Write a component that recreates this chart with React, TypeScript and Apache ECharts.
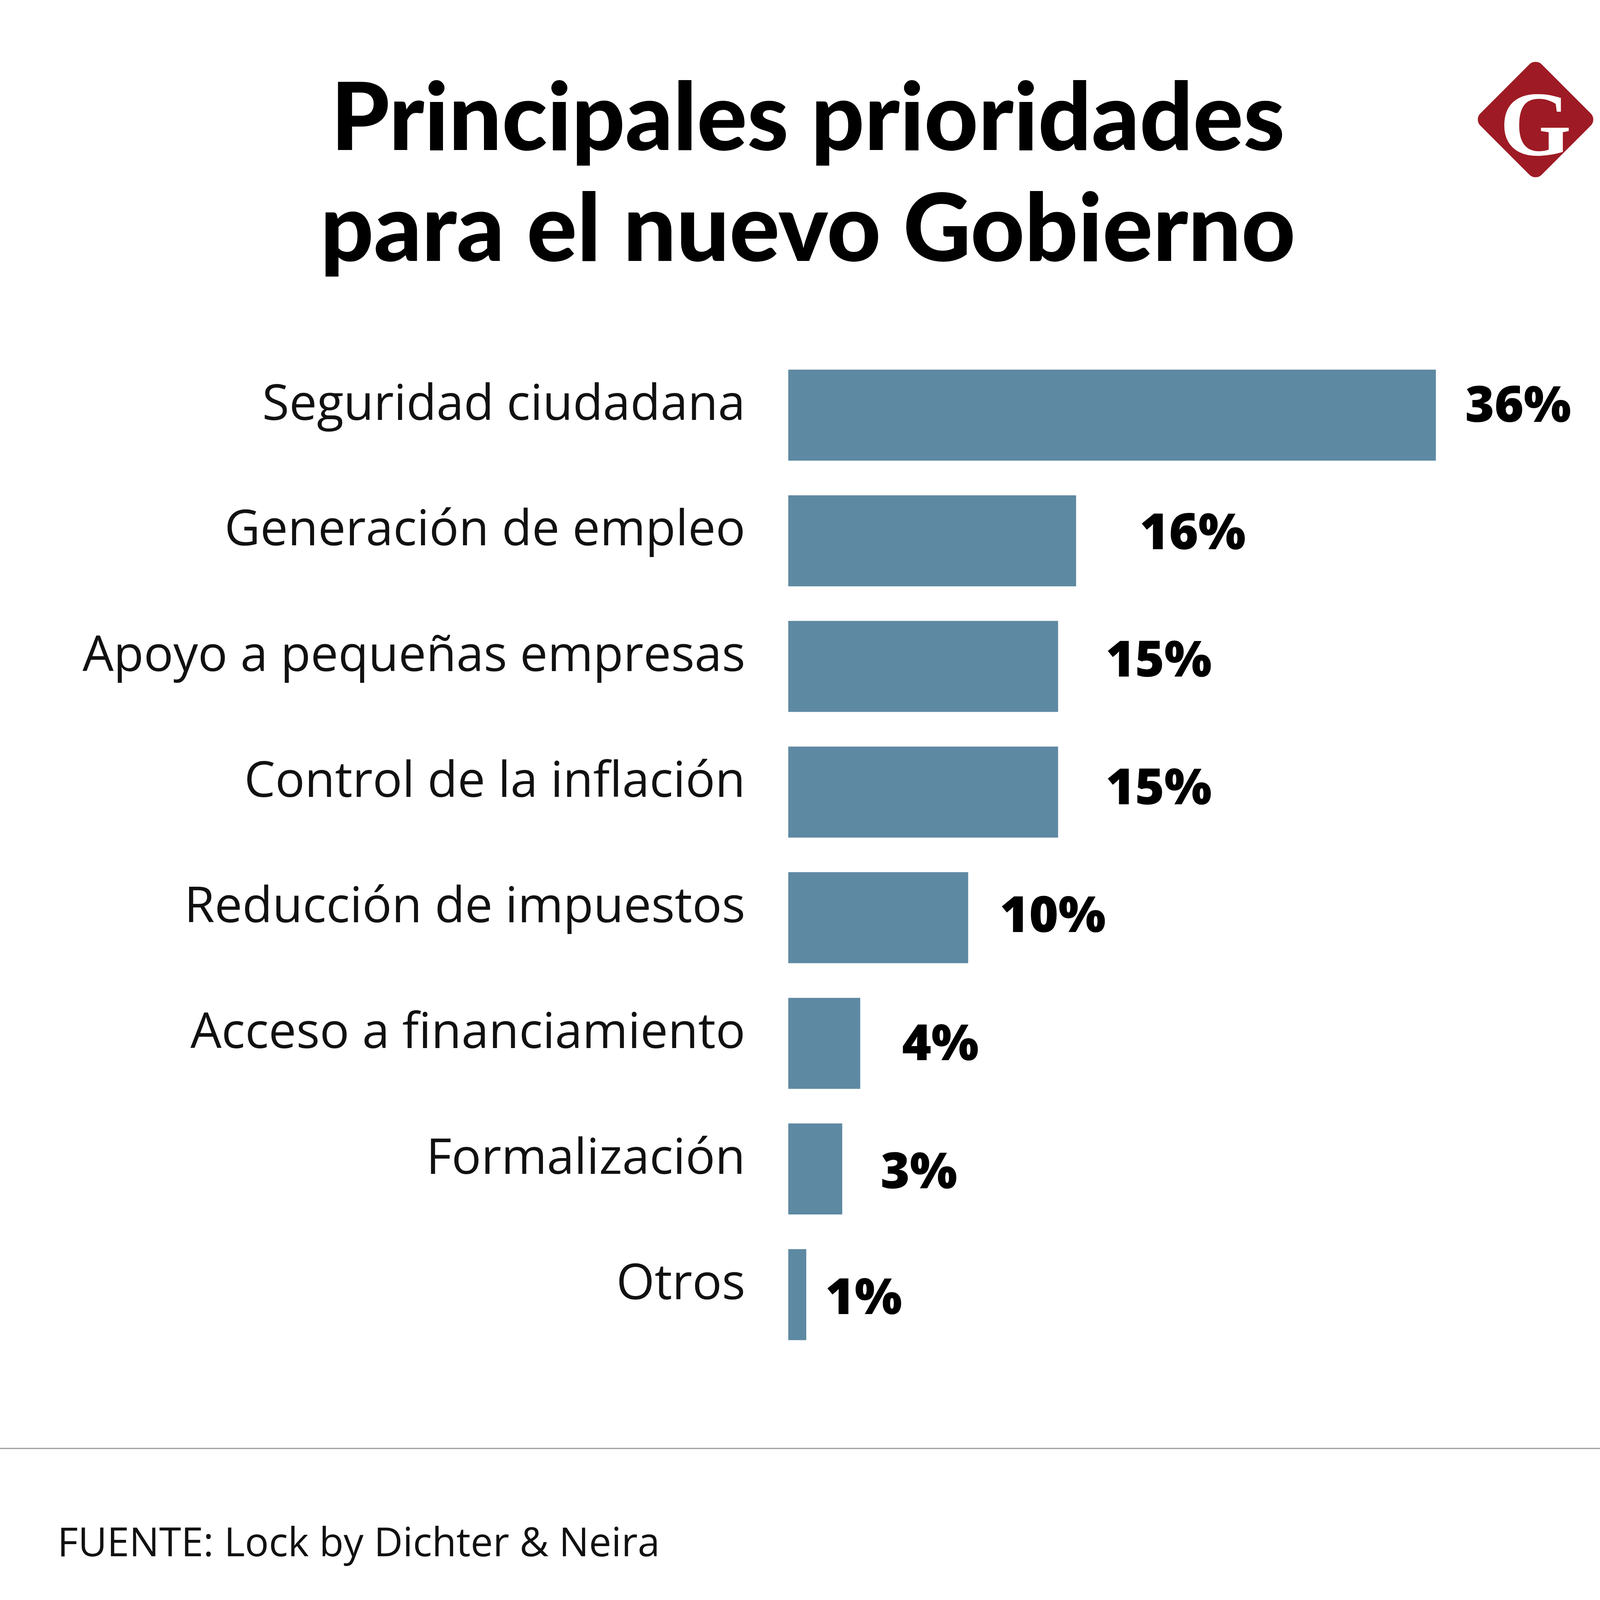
import React, { useEffect, useRef } from "react";
import * as echarts from "echarts";

const categories = [
  "Seguridad ciudadana",
  "Generación de empleo",
  "Apoyo a pequeñas empresas",
  "Control de la inflación",
  "Reducción de impuestos",
  "Acceso a financiamiento",
  "Formalización",
  "Otros",
];
const values = [36, 16, 15, 15, 10, 4, 3, 1];
const titleLines = ["Principales prioridades", "para el nuevo Gobierno"];
const sourceText = "FUENTE: Lock by Dichter & Neira";
const logoLetter = "G";

// layout nudges for the value labels (px): gap after the bar end, vertical shift
const labelGap = [75, 163, 122, 122, 81, 107, 98, 49];
const labelShift = [-32, -28, -24, -18, -13, -6, 0, 0];

const W = 4150;
const H = 4211;

export default function App() {
  const ref = useRef<HTMLDivElement>(null);

  useEffect(() => {
    document.body.style.margin = "0";
    if (!ref.current) return;
    const chart = echarts.init(ref.current, null, { renderer: "svg" });

    const option: any = {
      animation: false,
      backgroundColor: "#ffffff",
      grid: { left: 2018, right: 290, top: 902, bottom: 736, containLabel: false },
      xAxis: { type: "value", min: 0, max: 40, show: false },
      yAxis: {
        type: "category",
        data: categories,
        inverse: true,
        axisLine: { show: false },
        axisTick: { show: false },
        splitLine: { show: false },
        axisLabel: {
          interval: 0,
          margin: 110,
          fontFamily: "Open Sans",
          fontSize: 126,
          color: "#111111",
          verticalAlign: "bottom",
          lineHeight: 74,
        },
      },
      series: [
        {
          type: "bar",
          barWidth: 233,
          itemStyle: { color: "#5e89a2" },
          data: values.map((v, i) => ({
            value: v,
            label: { distance: labelGap[i], offset: [0, labelShift[i]] },
          })),
          label: {
            show: true,
            position: "right",
            formatter: "{c}%",
            fontFamily: "Open Sans",
            fontWeight: 800,
            fontSize: 128,
            color: "#000000",
          },
        },
      ],
      graphic: [
        {
          type: "text",
          x: 2068,
          y: 291,
          style: {
            text: titleLines[0],
            font: "900 240px Lato",
            fill: "#000",
            textAlign: "center",
            textVerticalAlign: "middle",
          },
        },
        {
          type: "text",
          x: 2068,
          y: 575,
          style: {
            text: titleLines[1],
            font: "900 240px Lato",
            fill: "#000",
            textAlign: "center",
            textVerticalAlign: "middle",
          },
        },
        {
          type: "group",
          x: 3931,
          y: 306,
          rotation: Math.PI / 4,
          children: [
            {
              type: "rect",
              shape: { x: -111, y: -111, width: 222, height: 222, r: 22 },
              style: { fill: "#9e1b25" },
            },
          ],
        },
        {
          type: "text",
          x: 3931,
          y: 318,
          style: {
            text: logoLetter,
            font: "bold 235px 'Liberation Serif'",
            fill: "#fff",
            textAlign: "center",
            textVerticalAlign: "middle",
          },
        },
        {
          type: "line",
          shape: { x1: 0, y1: 3708, x2: 4125, y2: 3708 },
          style: { stroke: "#999999", lineWidth: 3 },
        },
        {
          type: "text",
          x: 147,
          y: 3944,
          style: {
            text: sourceText,
            font: "102px 'Open Sans'",
            fill: "#111",
            textAlign: "left",
            textVerticalAlign: "middle",
          },
        },
      ],
    };

    chart.setOption(option);
    return () => chart.dispose();
  }, []);

  return <div ref={ref} style={{ width: W, height: H }} />;
}
